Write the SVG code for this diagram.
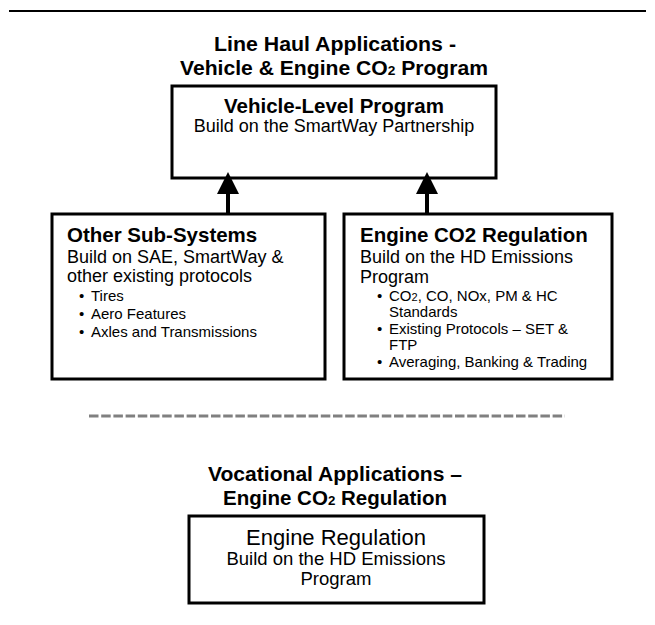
<svg xmlns="http://www.w3.org/2000/svg" width="655" height="625" viewBox="0 0 655 625">
<style>
  text { font-family: "Liberation Sans", Arial, sans-serif; fill: #000; }
  .title { font-size: 20px; font-weight: bold; text-anchor: middle; }
  .head { font-size: 20.5px; font-weight: bold; }
  .body { font-size: 18px; }
  .bul { font-size: 15px; }
  .box { fill: #fff; stroke: #000; stroke-width: 3; }
</style>
<rect width="655" height="625" fill="#fff"/>
<line x1="9" y1="11" x2="646" y2="11" stroke="#000" stroke-width="2"/>

<g id="title-linehaul">
  <text class="title" x="335" y="51" textLength="242" lengthAdjust="spacingAndGlyphs">Line Haul Applications -</text>
  <text class="title" x="334" y="75" textLength="308" lengthAdjust="spacingAndGlyphs">Vehicle &amp; Engine CO<tspan font-size="13px">2</tspan> Program</text>
</g>

<g id="vehicle-level">
  <rect class="box" x="172" y="86" width="324" height="92"/>
  <text class="head" x="334" y="113" text-anchor="middle">Vehicle-Level Program</text>
  <text class="body" x="334" y="132" text-anchor="middle" font-size="17.5px">Build on the SmartWay Partnership</text>
</g>

<g id="connectors">
  <line x1="228" y1="192" x2="228" y2="214" stroke="#000" stroke-width="4"/>
  <polygon points="228,172 217,194 239,194" fill="#000"/>
  <line x1="427" y1="192" x2="427" y2="214" stroke="#000" stroke-width="4"/>
  <polygon points="427,172 416,194 438,194" fill="#000"/>
</g>

<g id="other-subsystems">
  <rect class="box" x="52" y="214" width="273" height="165"/>
  <text class="head" x="67" y="242">Other Sub-Systems</text>
  <text class="body" x="67" y="263">Build on SAE, SmartWay &amp;</text>
  <text class="body" x="67" y="282">other existing protocols</text>
  <text class="bul" x="79" y="301">•</text><text class="bul" x="91" y="301">Tires</text>
  <text class="bul" x="79" y="319">•</text><text class="bul" x="91" y="319">Aero Features</text>
  <text class="bul" x="79" y="337">•</text><text class="bul" x="91" y="337">Axles and Transmissions</text>
</g>

<g id="engine-co2">
  <rect class="box" x="344" y="214" width="268" height="165"/>
  <text class="head" x="360" y="242">Engine CO2 Regulation</text>
  <text class="body" x="360" y="263">Build on the HD Emissions</text>
  <text class="body" x="360" y="283">Program</text>
  <text class="bul" x="377" y="301">•</text><text class="bul" x="389" y="301">CO<tspan font-size="11px">2</tspan>, CO, NOx, PM &amp; HC</text>
  <text class="bul" x="389" y="317">Standards</text>
  <text class="bul" x="377" y="334">•</text><text class="bul" x="389" y="334">Existing Protocols – SET &amp;</text>
  <text class="bul" x="389" y="350">FTP</text>
  <text class="bul" x="377" y="367">•</text><text class="bul" x="389" y="367">Averaging, Banking &amp; Trading</text>
</g>

<line x1="89" y1="416" x2="565" y2="416" stroke="#808080" stroke-width="3" stroke-dasharray="9.5 2.7"/>

<g id="title-vocational">
  <text class="title" x="335" y="481" textLength="254" lengthAdjust="spacingAndGlyphs">Vocational Applications –</text>
  <text class="title" x="335" y="505" textLength="224" lengthAdjust="spacingAndGlyphs">Engine CO<tspan font-size="13px">2</tspan> Regulation</text>
</g>

<g id="engine-regulation">
  <rect class="box" x="189" y="516" width="295" height="87" stroke-width="2.5"/>
  <text x="336" y="545" text-anchor="middle" font-size="22px">Engine Regulation</text>
  <text x="336" y="565" text-anchor="middle" font-size="18.5px">Build on the HD Emissions</text>
  <text x="336" y="585" text-anchor="middle" font-size="18.5px">Program</text>
</g>
</svg>
